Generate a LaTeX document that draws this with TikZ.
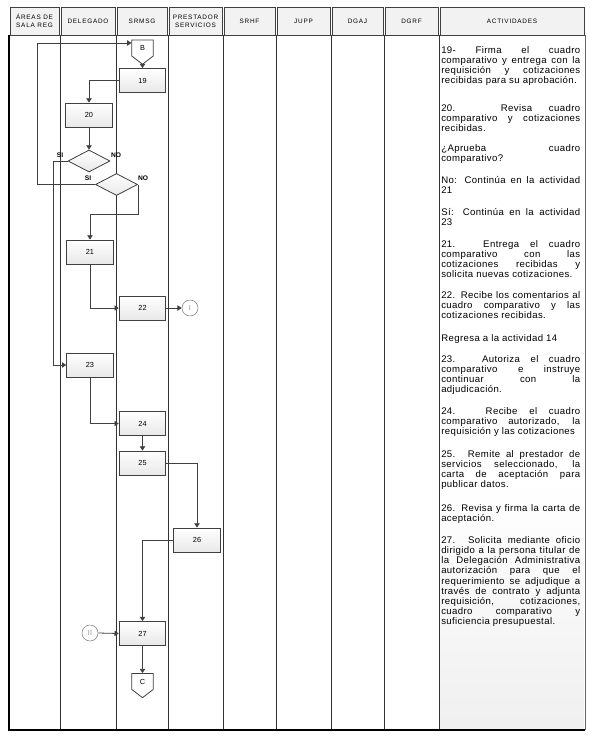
\documentclass[tikz,border=0pt]{standalone}
\usepackage{fontspec}
\setmainfont{Liberation Sans}
\newfontfamily\hdrfont[LetterSpace=12]{Liberation Sans}
\newfontfamily\descfont[LetterSpace=4]{Liberation Sans}
\usetikzlibrary{arrows.meta,shapes.geometric,shapes.symbols}

\begin{document}
\begin{tikzpicture}[x=0.75pt,y=-0.75pt,
  flow/.style={draw=black!75,line width=0.6pt,-{Triangle[length=3.2pt,width=4pt]}},
  act/.style={draw=black!75,line width=0.6pt,top color=white,bottom color=gray!18,minimum width=35pt,minimum height=18pt,inner sep=0,font=\fontsize{5.5}{6}\selectfont},
  decision/.style={diamond,draw=black!75,line width=0.6pt,top color=white,bottom color=gray!18,minimum width=31.5pt,minimum height=16.5pt,inner sep=0},
  offpage/.style={signal,signal to=south,signal pointer angle=105,draw=black!75,line width=0.6pt,fill=white,minimum width=16pt,minimum height=13.5pt,inner sep=0,font=\fontsize{5.5}{6}\selectfont},
  link/.style={circle,draw=black!50,fill=white,minimum size=12pt,inner sep=0,text=black!40,font=\fontsize{5.5}{6}\selectfont},
  answer/.style={font=\bfseries\fontsize{5}{6}\selectfont,inner sep=0},
  colhead/.style={font=\hdrfont\fontsize{4.8}{6}\selectfont,align=center,inner sep=0},
  desc/.style={anchor=north west,text width=104.25pt,align=justify,inner sep=0,font=\descfont\fontsize{7.2}{7.65}\selectfont}]
  \useasboundingbox (0,0) rectangle (591,739);
  \shade[top color=white,bottom color=gray!12] (440,480) rectangle (584,729);
  \foreach \a/\b/\t [count=\i] in {9/60/{ÁREAS DE\\SALA REG},60/116/DELEGADO,116/168/SRMSG,168/223/{PRESTADOR\\SERVICIOS},223/276/SRHF,276/331/JUPP,331/384/DGAJ,384/439/DGRF,439/585/ACTIVIDADES}{
    \draw[black!75,fill=gray!10] (\a+1,7) rectangle (\b-1,35);
    \node[colhead] (h\i) at ({(\a+\b)/2},21) {\t};
  }
  \foreach \x in {60,116,168,223,276,331,384,439}{
    \draw[black!80,line width=0.7pt] (\x,35) -- (\x,730);
  }
  \draw[black!60] (585,35) -- (585,730);
  \draw[line width=1.1pt] (9,35) -- (9,730) -- (585,730);

  \node[offpage] (B) at (142.5,48) {B};
  \node[act] (n19) at (142.5,80.5) {19};
  \node[act] (n20) at (89,115) {20};
  \node[decision] (d1) at (89,161) {};
  \node[decision] (d2) at (116.5,184.5) {};
  \node[act] (n21) at (90,252) {21};
  \node[act] (n22) at (142.5,308) {22};
  \node[link] (i1) at (190,308) {I};
  \node[act] (n23) at (90,365) {23};
  \node[act] (n24) at (142.5,423.5) {24};
  \node[act] (n25) at (142.5,463) {25};
  \node[act] (n26) at (197,540) {26};
  \node[link] (i2) at (90,633) {II};
  \node[act] (n27) at (142.5,633.5) {27};
  \node[offpage] (C) at (142.5,681.5) {C};
  \node[answer] (si1) at (60,155) {SI};
  \node[answer] (no1) at (116,155) {NO};
  \node[answer] (si2) at (88,178) {SI};
  \node[answer] (no2) at (143,178) {NO};

  \draw[flow] (B.south) -- (n19.north);
  \draw[flow] (n19.west) -| (n20.north);
  \draw[flow] (n20) -- (d1);
  \draw[flow] (d1.west) -- ++(-14,0) |- (n23.west);
  \draw[flow] (d2.west) -- ++(-57.5,0) |- ([yshift=3.75pt]B.west);
  \draw[flow] (d2.east) -- ++(0,30) -| (n21.north);
  \draw[flow] (n21.south) |- (n22.west);
  \draw[flow] (n22.east) -- (i1.west);
  \draw[flow] (n23.south) |- (n24.west);
  \draw[flow] (n24) -- (n25);
  \draw[flow] (n25.east) -| (n26.north);
  \draw[flow] (n26.west) -| (n27.north);
  \draw[flow] (i2.east) -- (n27.west);
  \draw[flow] (n27.south) -- (C.north);

  \node[desc] (t19) at (441,46) {19- Firma el cuadro\linebreak comparativo y entrega con la\linebreak requisición y cotizaciones\linebreak recibidas para su aprobación.};
  \node[desc] (t20) at (441,104) {20. Revisa cuadro\linebreak comparativo y cotizaciones\linebreak recibidas.};
  \node[desc] (tq) at (441,144) {¿Aprueba cuadro\linebreak comparativo?};
  \node[desc] (tno) at (441,176) {No: Continúa en la actividad\linebreak 21};
  \node[desc] (tsi) at (441,208) {Sí: Continúa en la actividad\linebreak 23};
  \node[desc] (t21) at (441,240) {21. Entrega el cuadro\linebreak comparativo con las\linebreak cotizaciones recibidas y\linebreak solicita nuevas cotizaciones.};
  \node[desc] (t22) at (441,291) {22. Recibe los comentarios al\linebreak cuadro comparativo y las\linebreak cotizaciones recibidas.};
  \node[desc] (tback) at (441,334) {Regresa a la actividad 14};
  \node[desc] (t23) at (441,355) {23. Autoriza el cuadro\linebreak comparativo e instruye\linebreak continuar con la\linebreak adjudicación.};
  \node[desc] (t24) at (441,407) {24. Recibe el cuadro\linebreak comparativo autorizado, la\linebreak requisición y las cotizaciones};
  \node[desc] (t25) at (441,450) {25. Remite al prestador de\linebreak servicios seleccionado, la\linebreak carta de aceptación para\linebreak publicar datos.};
  \node[desc] (t26) at (441,504) {26. Revisa y firma la carta de\linebreak aceptación.};
  \node[desc] (t27) at (441,536) {27. Solicita mediante oficio\linebreak dirigido a la persona titular de\linebreak la Delegación Administrativa\linebreak autorización para que el\linebreak requerimiento se adjudique a\linebreak través de contrato y adjunta\linebreak requisición, cotizaciones,\linebreak cuadro comparativo y\linebreak suficiencia presupuestal.};
\end{tikzpicture}
\end{document}
